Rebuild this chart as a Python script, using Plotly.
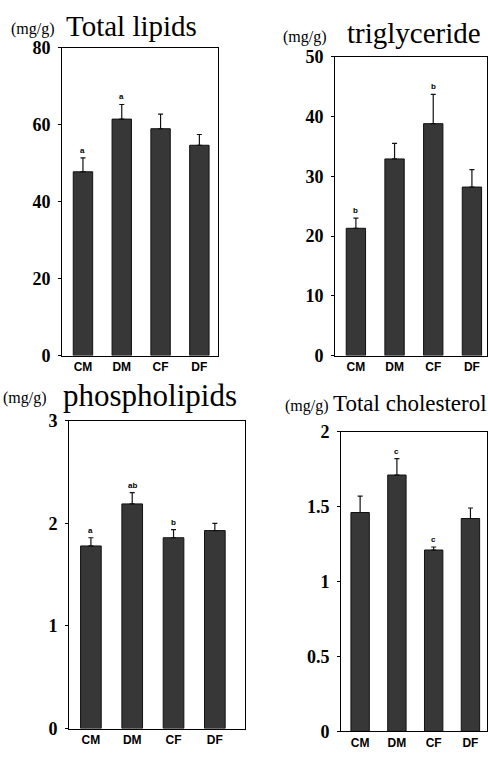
import plotly.graph_objects as go

W, H = 488, 757

cats = ["CM", "DM", "CF", "DF"]

lipids = [47.8, 61.5, 59.0, 54.7]
lipids_err = [3.6, 3.8, 3.8, 2.8]
lipids_sig = ["a", "a", "", ""]

tg = [21.3, 32.9, 38.8, 28.2]
tg_err = [1.7, 2.6, 4.9, 2.9]
tg_sig = ["b", "", "b", ""]

pl = [1.78, 2.19, 1.86, 1.93]
pl_err = [0.08, 0.11, 0.08, 0.07]
pl_sig = ["a", "ab", "b", ""]

tc = [1.46, 1.71, 1.21, 1.42]
tc_err = [0.11, 0.11, 0.02, 0.07]
tc_sig = ["", "c", "c", ""]

lipid_ticks = [0, 20, 40, 60, 80]
tg_ticks = [0, 10, 20, 30, 40, 50]
pl_ticks = [0, 1, 2, 3]
tc_ticks = [0, 0.5, 1, 1.5, 2]
tc_ticktext = ["0", "0.5", "1", "1.5", "2"]


def px_x(a, b):
    return [a / W, b / W]


def px_y(top, bottom):
    return [1 - bottom / H, 1 - top / H]


panels = [
    dict(vals=lipids, err=lipids_err, sig=lipids_sig, ticks=lipid_ticks, ticktext=None,
         yr=[0, 80], xd=px_x(62, 218), yd=px_y(39, 355), xr=[-0.54, 3.48]),
    dict(vals=tg, err=tg_err, sig=tg_sig, ticks=tg_ticks, ticktext=None,
         yr=[0, 50], xd=px_x(335, 487), yd=px_y(48, 355), xr=[-0.54, 3.39]),
    dict(vals=pl, err=pl_err, sig=pl_sig, ticks=pl_ticks, ticktext=None,
         yr=[0, 3], xd=px_x(69, 245), yd=px_y(422, 738), xr=[-0.53, 3.73]),
    dict(vals=tc, err=tc_err, sig=tc_sig, ticks=tc_ticks, ticktext=tc_ticktext,
         yr=[0, 2], xd=px_x(341, 487), yd=px_y(433, 741), xr=[-0.52, 3.45]),
]

fig = go.Figure()
annotations = []
layout = {}
for i, p in enumerate(panels):
    k = "" if i == 0 else str(i + 1)
    fig.add_trace(go.Bar(
        x=list(range(len(cats))), y=p["vals"],
        xaxis="x" + k, yaxis="y" + k,
        width=0.5,
        marker=dict(color="#373737", line=dict(color="#111111", width=1)),
        error_y=dict(type="data", symmetric=False, array=p["err"],
                     arrayminus=[0] * len(cats), color="#111111",
                     thickness=1.2, width=2.5),
        showlegend=False,
    ))
    layout["xaxis" + k] = dict(
        domain=p["xd"], range=p["xr"], anchor="y" + k,
        tickmode="array", tickvals=list(range(len(cats))), ticktext=cats,
        showline=True, linecolor="black", linewidth=1, mirror=True,
        showgrid=False, zeroline=False, ticks="",
        tickfont=dict(family="Liberation Sans", size=12, color="black", weight="bold"),
        ticklabelstandoff=0,
    )
    ya = dict(
        domain=p["yd"], range=p["yr"], anchor="x" + k,
        tickmode="array", tickvals=p["ticks"],
        showline=True, linecolor="black", linewidth=1, mirror=True,
        showgrid=False, zeroline=False, ticks="outside", ticklen=3,
        tickcolor="black", tickwidth=1,
        tickfont=dict(family="Liberation Serif", size=18, color="black", weight="bold"),
        ticklabelstandoff=4,
    )
    if p["ticktext"]:
        ya["ticktext"] = p["ticktext"]
    layout["yaxis" + k] = ya
    for j, s in enumerate(p["sig"]):
        if s:
            annotations.append(dict(
                x=j, y=p["vals"][j] + p["err"][j], xref="x" + k, yref="y" + k,
                text=s, showarrow=False, yanchor="bottom", yshift=1,
                font=dict(family="Liberation Sans", size=8, color="black", weight="bold"),
            ))


def title(x_unit, y_unit, x_name, y_name, name, size):
    annotations.append(dict(
        x=x_unit / W, y=1 - y_unit / H, xref="paper", yref="paper",
        text="(mg/g)", showarrow=False, xanchor="left", yanchor="middle",
        font=dict(family="Liberation Serif", size=16, color="black"),
    ))
    annotations.append(dict(
        x=x_name / W, y=1 - y_name / H, xref="paper", yref="paper",
        text=name, showarrow=False, xanchor="left", yanchor="middle",
        font=dict(family="Liberation Serif", size=size, color="black"),
    ))


title(9, 20, 64, 16, "Total lipids", 29)
title(281, 28, 345, 24, "triglyceride", 29)
title(1, 399, 61, 396, "phospholipids", 31)
title(283, 407, 331, 404, "Total cholesterol", 23)

fig.update_layout(
    width=W, height=H,
    margin=dict(l=0, r=0, t=0, b=0),
    paper_bgcolor="white", plot_bgcolor="white",
    annotations=annotations,
    **layout,
)

fig.write_html(
    "out.html",
    config={"displayModeBar": False},
    post_script="document.body.style.margin='0';document.body.style.overflow='hidden';",
)
